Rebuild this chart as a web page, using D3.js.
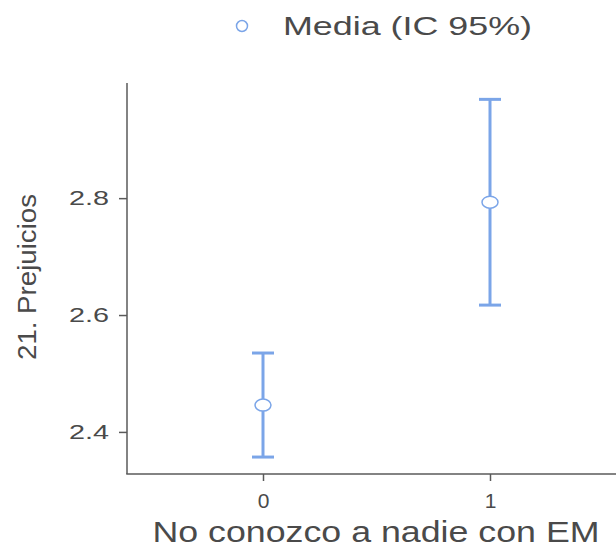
<!DOCTYPE html>
<html>
<head>
<meta charset="utf-8">
<script src="https://cdn.jsdelivr.net/npm/d3@7"></script>
<style>
  body { margin: 0; background: #fff; }
  text { font-family: "Liberation Sans", Arial, sans-serif; fill: #4a4a4a; }
</style>
</head>
<body>
<div id="chart"></div>
<script>
// data
var groups = ["0", "1"];
var means  = [2.446, 2.793];
var lower  = [2.357, 2.617];
var upper  = [2.535, 2.969];
var yTicks = [2.4, 2.6, 2.8];

var width = 616, height = 554;
var barColor = "#7ba5e8", axisColor = "#5a5a5a";

var data = groups.map(function(g, i) {
    return { g: g, m: means[i], lo: lower[i], hi: upper[i] };
});

var x = d3.scalePoint().domain(groups).range([263, 490]);
var y = d3.scaleLinear().domain([2.328, 2.997]).range([474, 83]);

var svg = d3.select("#chart")
    .append("svg")
    .attr("width", width)
    .attr("height", height);

// legend
svg.append("circle")
    .attr("cx", 242).attr("cy", 26).attr("r", 5.5)
    .attr("fill", "#fff").attr("stroke", barColor).attr("stroke-width", 1.5);
svg.append("text")
    .attr("x", 283).attr("y", 35)
    .attr("font-size", 25)
    .attr("textLength", 249).attr("lengthAdjust", "spacingAndGlyphs")
    .text("Media (IC 95%)");

// y axis
var yAxis = svg.append("g")
    .attr("transform", "translate(127,0)")
    .call(d3.axisLeft(y).tickValues(yTicks).tickSize(8).tickPadding(10)
        .tickFormat(d3.format(".1f")));
yAxis.select(".domain").remove();
yAxis.selectAll(".tick line").attr("stroke", axisColor).attr("stroke-width", 1.5);
yAxis.selectAll(".tick text")
    .attr("font-size", 20)
    .attr("fill", "#4a4a4a")
    .attr("textLength", 40).attr("lengthAdjust", "spacingAndGlyphs");
svg.append("line")
    .attr("x1", 127).attr("x2", 127)
    .attr("y1", y.range()[1]).attr("y2", y.range()[0])
    .attr("stroke", axisColor).attr("stroke-width", 1.5);

// x axis
var xAxis = svg.append("g")
    .attr("transform", "translate(0,474)")
    .call(d3.axisBottom(x).tickSize(7).tickPadding(12));
xAxis.select(".domain").remove();
xAxis.selectAll(".tick line").attr("stroke", axisColor).attr("stroke-width", 1.5);
xAxis.selectAll(".tick text")
    .attr("font-size", 21)
    .attr("fill", "#4a4a4a");
svg.append("line")
    .attr("x1", 126.25).attr("x2", width)
    .attr("y1", 474).attr("y2", 474)
    .attr("stroke", axisColor).attr("stroke-width", 1.5);

// axis titles
svg.append("text")
    .attr("x", 376).attr("y", 542)
    .attr("text-anchor", "middle")
    .attr("font-size", 29)
    .attr("textLength", 447).attr("lengthAdjust", "spacingAndGlyphs")
    .text("No conozco a nadie con EM");

svg.append("text")
    .attr("transform", "translate(36,277) rotate(-90)")
    .attr("text-anchor", "middle")
    .attr("font-size", 25)
    .attr("textLength", 166).attr("lengthAdjust", "spacingAndGlyphs")
    .text("21. Prejuicios");

// error bars
var bars = svg.append("g")
    .selectAll("g")
    .data(data)
    .enter()
    .append("g")
    .attr("stroke", barColor)
    .attr("stroke-width", 3);

bars.append("line")
    .attr("x1", function(d) { return x(d.g); })
    .attr("x2", function(d) { return x(d.g); })
    .attr("y1", function(d) { return y(d.lo); })
    .attr("y2", function(d) { return y(d.hi); });

bars.append("line")
    .attr("x1", function(d) { return x(d.g) - 11; })
    .attr("x2", function(d) { return x(d.g) + 11; })
    .attr("y1", function(d) { return y(d.hi); })
    .attr("y2", function(d) { return y(d.hi); });

bars.append("line")
    .attr("x1", function(d) { return x(d.g) - 11; })
    .attr("x2", function(d) { return x(d.g) + 11; })
    .attr("y1", function(d) { return y(d.lo); })
    .attr("y2", function(d) { return y(d.lo); });

bars.append("ellipse")
    .attr("cx", function(d) { return x(d.g); })
    .attr("cy", function(d) { return y(d.m); })
    .attr("rx", 8).attr("ry", 6)
    .attr("fill", "#fff")
    .attr("stroke-width", 1.5);
</script>
</body>
</html>
